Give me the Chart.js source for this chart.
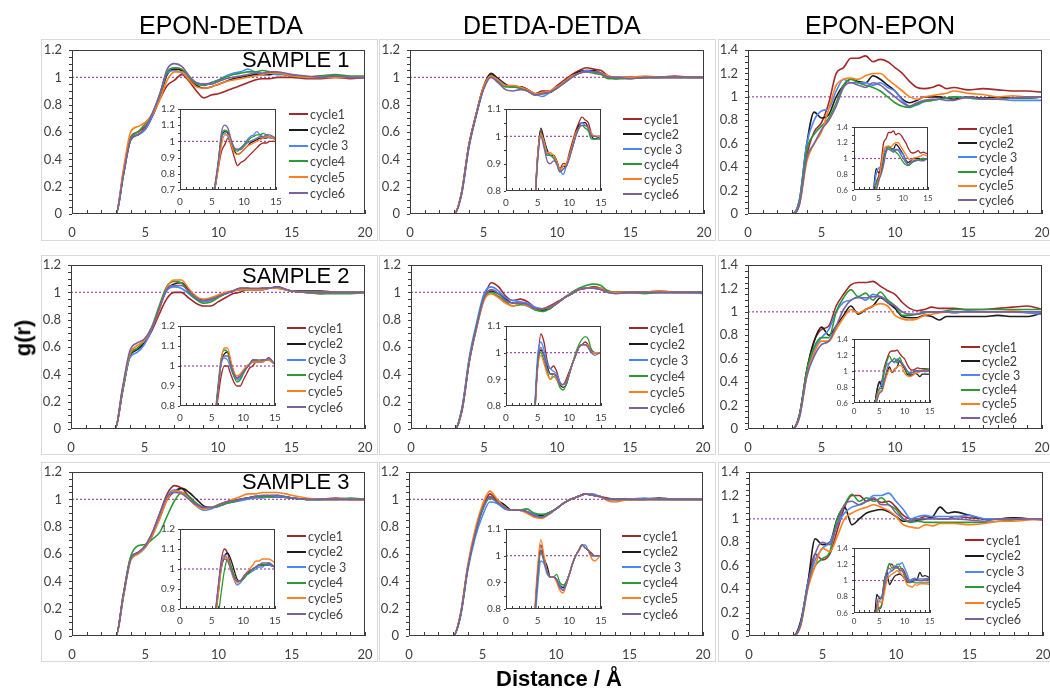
<!DOCTYPE html>
<html>
<head>
<meta charset="utf-8">
<script src="https://cdn.jsdelivr.net/npm/chart.js@4.4.0/dist/chart.umd.min.js"></script>
<style>
  html, body { margin: 0; padding: 0; background: #fff; }
  body { width: 1050px; height: 691px; position: relative; overflow: hidden; }
  .frame { position: absolute; border: 1px solid #d9d9d9; box-sizing: border-box; }
  canvas { position: absolute; }
  .txt { position: absolute; font-family: "Liberation Sans", Arial, sans-serif; color: #000; white-space: nowrap; line-height: 1; }
  .leg { position: absolute; display: flex; align-items: center; height: 16px;
         font-family: Lato, "Open Sans", sans-serif; font-size: 12.5px; color: #404040; }
  .leg span.ln { display: inline-block; width: 19px; height: 2px; margin-right: 2px; }
</style>
</head>
<body>
<script>
// distance grid (Angstrom), shared by every curve
const R = [0, 3, 3.5, 4, 4.5, 5, 5.5, 6, 6.5, 7, 7.5, 8, 8.5, 9, 9.5, 10, 10.5, 11, 11.5, 12, 12.5, 13, 13.5, 14, 15, 16, 17, 18, 19, 20];

const CYCLES = ['cycle1', 'cycle2', 'cycle 3', 'cycle4', 'cycle5', 'cycle6'];
const COLORS = ['#a1282b', '#1c1c1c', '#4a86ff', '#2a9a35', '#ff7f1e', '#7b619e'];

// g(r), one row per cycle
// EPON-DETDA
const eponDetda1 = [
  [0,0,0.30,0.56,0.60,0.64,0.72,0.84,0.94,0.98,1.02,0.97,0.90,0.85,0.87,0.88,0.90,0.92,0.94,0.96,0.98,0.99,0.99,1.00,1.00,0.99,0.99,1.00,0.99,1.00],
  [0,0,0.28,0.54,0.58,0.62,0.72,0.86,1.02,1.06,1.05,0.99,0.94,0.92,0.93,0.95,0.97,0.99,1.00,1.01,1.02,1.02,1.02,1.03,1.01,1.00,1.01,1.01,1.00,1.00],
  [0,0,0.29,0.55,0.58,0.62,0.72,0.87,1.03,1.05,1.03,0.99,0.96,0.95,0.96,0.98,1.01,1.03,1.04,1.06,1.04,1.03,1.03,1.02,1.02,1.00,1.00,1.01,1.00,1.00],
  [0,0,0.29,0.55,0.60,0.66,0.74,0.88,1.04,1.07,1.06,1.00,0.95,0.94,0.96,0.98,1.00,1.02,1.03,1.04,1.04,1.05,1.04,1.03,1.01,1.00,1.01,1.02,1.01,1.01],
  [0,0,0.32,0.60,0.64,0.67,0.73,0.84,0.98,1.04,1.04,0.98,0.93,0.92,0.93,0.95,0.97,0.98,0.99,1.00,1.01,1.02,1.03,1.03,1.01,1.00,1.00,1.00,1.00,1.00],
  [0,0,0.28,0.54,0.58,0.63,0.74,0.88,1.06,1.10,1.08,1.01,0.96,0.95,0.95,0.97,0.99,1.00,1.01,1.02,1.03,1.03,1.04,1.04,1.02,1.01,1.00,1.01,1.00,1.00]
];
const eponDetda2 = [
  [0,0,0.28,0.54,0.59,0.63,0.72,0.84,0.95,1.00,1.00,0.96,0.92,0.90,0.90,0.93,0.96,0.99,1.00,1.02,1.02,1.02,1.03,1.03,1.01,1.00,0.99,1.00,1.00,1.00],
  [0,0,0.27,0.53,0.58,0.63,0.73,0.88,1.02,1.06,1.07,1.02,0.97,0.94,0.95,0.97,0.99,1.01,1.03,1.03,1.02,1.03,1.03,1.04,1.01,1.01,1.01,1.00,1.00,1.00],
  [0,0,0.27,0.52,0.56,0.62,0.73,0.88,1.01,1.04,1.03,0.99,0.95,0.93,0.94,0.97,0.99,1.01,1.02,1.03,1.02,1.03,1.03,1.03,1.01,1.00,1.00,1.00,1.00,1.00],
  [0,0,0.28,0.54,0.59,0.65,0.75,0.90,1.04,1.08,1.07,1.00,0.95,0.92,0.93,0.96,0.99,1.01,1.02,1.02,1.02,1.02,1.03,1.03,1.01,1.00,0.99,0.99,0.99,1.00],
  [0,0,0.29,0.55,0.61,0.65,0.74,0.87,1.03,1.09,1.09,1.03,0.97,0.95,0.96,0.98,1.00,1.01,1.02,1.02,1.02,1.02,1.03,1.03,1.01,1.00,1.00,1.00,1.00,1.00],
  [0,0,0.30,0.57,0.63,0.66,0.74,0.88,1.02,1.05,1.05,1.01,0.96,0.94,0.95,0.97,0.99,1.01,1.03,1.03,1.03,1.03,1.03,1.04,1.01,1.00,1.00,1.00,1.00,1.00]
];
const eponDetda3 = [
  [0,0,0.30,0.57,0.61,0.66,0.76,0.90,1.04,1.10,1.08,1.02,0.97,0.94,0.94,0.96,0.98,0.99,1.00,1.01,1.02,1.02,1.02,1.02,1.01,1.00,1.00,1.01,1.00,1.00],
  [0,0,0.29,0.56,0.61,0.65,0.74,0.87,1.00,1.06,1.08,1.05,1.00,0.95,0.94,0.95,0.97,0.99,1.00,1.01,1.02,1.02,1.02,1.02,1.01,1.00,1.00,1.00,1.00,1.00],
  [0,0,0.29,0.56,0.60,0.65,0.75,0.89,1.02,1.07,1.05,1.00,0.95,0.92,0.93,0.95,0.97,0.98,0.99,1.00,1.01,1.01,1.02,1.02,1.01,1.00,1.00,1.00,1.00,1.00],
  [0,0,0.30,0.58,0.66,0.67,0.71,0.76,0.88,0.99,1.05,1.02,0.97,0.94,0.94,0.95,0.97,0.98,1.00,1.01,1.02,1.02,1.02,1.03,1.01,1.00,1.00,1.00,1.01,1.00],
  [0,0,0.28,0.55,0.60,0.65,0.74,0.86,1.00,1.06,1.05,1.00,0.95,0.93,0.94,0.96,0.98,1.00,1.02,1.04,1.04,1.05,1.05,1.05,1.03,1.01,1.00,1.00,1.00,1.00],
  [0,0,0.29,0.56,0.61,0.66,0.76,0.90,1.02,1.05,1.04,1.00,0.96,0.94,0.94,0.96,0.98,0.99,1.00,1.01,1.02,1.03,1.03,1.03,1.01,1.00,1.00,1.00,1.00,1.00]
];
// DETDA-DETDA
const detdaDetda1 = [
  [0,0,0.15,0.50,0.73,0.93,1.02,0.98,0.94,0.93,0.93,0.91,0.88,0.90,0.90,0.94,0.98,1.02,1.05,1.07,1.06,1.05,1.01,1.00,1.00,1.00,1.00,1.01,1.00,1.00],
  [0,0,0.15,0.50,0.73,0.93,1.03,0.99,0.95,0.93,0.93,0.91,0.88,0.89,0.89,0.93,0.97,1.01,1.04,1.05,1.05,1.03,1.00,0.99,1.00,1.00,1.00,1.00,1.00,1.00],
  [0,0,0.14,0.48,0.72,0.92,1.01,0.98,0.94,0.93,0.92,0.90,0.88,0.86,0.89,0.93,0.96,1.00,1.03,1.05,1.04,1.03,1.00,1.00,1.00,1.00,1.00,1.00,1.00,1.00],
  [0,0,0.15,0.49,0.72,0.92,1.01,0.97,0.93,0.93,0.92,0.90,0.87,0.88,0.89,0.92,0.96,1.00,1.03,1.04,1.03,1.02,0.99,0.99,0.99,1.00,1.00,1.00,1.00,1.00],
  [0,0,0.15,0.50,0.73,0.93,1.01,0.98,0.94,0.94,0.93,0.91,0.88,0.89,0.90,0.93,0.97,1.01,1.03,1.04,1.04,1.03,1.01,1.00,1.00,1.01,1.00,1.00,1.00,1.00],
  [0,0,0.14,0.49,0.72,0.91,1.00,0.96,0.91,0.90,0.91,0.90,0.87,0.88,0.89,0.92,0.96,1.00,1.03,1.04,1.04,1.03,1.00,1.00,0.99,1.00,1.00,1.00,1.00,1.00]
];
const detdaDetda2 = [
  [0,0,0.15,0.51,0.76,0.96,1.07,1.04,0.97,0.94,0.95,0.93,0.89,0.88,0.90,0.93,0.96,0.99,1.02,1.03,1.04,1.03,1.01,1.00,1.00,1.00,1.01,1.00,1.00,1.00],
  [0,0,0.14,0.50,0.75,0.95,1.01,0.99,0.95,0.92,0.92,0.91,0.88,0.87,0.88,0.92,0.96,0.99,1.02,1.03,1.03,1.02,1.00,1.00,1.00,1.00,1.00,1.00,1.00,1.00],
  [0,0,0.16,0.53,0.78,0.99,1.04,1.01,0.96,0.94,0.93,0.92,0.89,0.88,0.89,0.92,0.96,0.99,1.02,1.03,1.03,1.02,1.00,1.00,1.00,1.00,1.00,1.00,1.00,0.99],
  [0,0,0.15,0.51,0.76,0.96,1.00,0.97,0.93,0.90,0.91,0.90,0.87,0.86,0.88,0.92,0.96,1.00,1.03,1.05,1.06,1.05,1.01,1.00,1.00,0.99,1.00,1.00,1.00,1.00],
  [0,0,0.14,0.50,0.74,0.94,0.99,0.96,0.92,0.90,0.92,0.90,0.88,0.88,0.89,0.92,0.96,0.99,1.02,1.03,1.03,1.03,1.00,1.00,1.00,1.00,1.01,1.00,1.00,1.00],
  [0,0,0.14,0.50,0.75,0.96,1.02,0.99,0.94,0.92,0.92,0.91,0.88,0.88,0.89,0.92,0.96,0.99,1.02,1.03,1.03,1.02,1.00,0.99,1.00,1.00,1.00,1.00,1.00,1.00]
];
const detdaDetda3 = [
  [0,0,0.15,0.50,0.75,0.93,1.04,0.99,0.94,0.92,0.92,0.91,0.88,0.88,0.90,0.93,0.97,1.00,1.02,1.04,1.03,1.02,1.01,1.00,1.00,1.00,1.00,1.00,1.00,1.00],
  [0,0,0.15,0.50,0.75,0.93,1.02,0.99,0.96,0.92,0.92,0.91,0.89,0.88,0.90,0.93,0.97,1.00,1.02,1.04,1.03,1.02,1.00,1.00,1.00,1.00,1.01,1.00,1.00,1.00],
  [0,0,0.14,0.48,0.72,0.88,0.98,0.97,0.93,0.92,0.92,0.91,0.89,0.87,0.90,0.93,0.97,1.00,1.02,1.04,1.04,1.02,1.00,1.00,1.00,1.01,1.00,1.00,1.00,1.00],
  [0,0,0.15,0.50,0.74,0.92,1.01,0.98,0.94,0.92,0.92,0.93,0.90,0.89,0.90,0.93,0.97,1.00,1.02,1.04,1.03,1.02,1.00,1.00,1.00,1.00,1.00,1.00,1.00,1.00],
  [0,0,0.16,0.52,0.78,0.96,1.06,1.00,0.94,0.92,0.92,0.90,0.87,0.86,0.89,0.93,0.97,1.00,1.02,1.04,1.03,1.02,0.99,0.98,1.00,1.00,1.00,1.00,1.00,1.00],
  [0,0,0.15,0.50,0.75,0.93,1.02,0.98,0.94,0.92,0.92,0.91,0.88,0.87,0.89,0.93,0.97,1.00,1.02,1.04,1.03,1.02,1.00,1.00,1.00,1.00,1.00,1.00,1.00,1.00]
];
// EPON-EPON
const eponEpon1 = [
  [0,0,0.10,0.50,0.70,0.78,0.95,1.20,1.25,1.33,1.33,1.35,1.30,1.32,1.30,1.25,1.20,1.13,1.08,1.07,1.08,1.10,1.07,1.08,1.06,1.07,1.06,1.05,1.05,1.04],
  [0,0,0.12,0.60,0.87,0.82,0.85,1.00,1.10,1.15,1.13,1.12,1.18,1.15,1.10,1.05,0.98,0.95,0.97,1.00,1.00,1.00,0.99,0.98,1.00,0.99,1.00,0.99,0.99,1.00],
  [0,0,0.12,0.60,0.80,0.88,0.90,1.05,1.15,1.12,1.12,1.12,1.10,1.12,1.08,1.05,0.97,0.92,0.93,0.96,0.97,0.98,0.99,1.00,0.99,0.98,0.98,0.97,0.97,0.97],
  [0,0,0.10,0.55,0.68,0.75,0.82,0.95,1.10,1.15,1.12,1.10,1.08,1.05,1.00,0.95,0.92,0.91,0.94,0.96,0.97,0.98,0.99,1.00,0.99,0.98,0.98,0.99,0.99,1.00],
  [0,0,0.08,0.45,0.60,0.70,0.90,1.10,1.15,1.16,1.15,1.18,1.20,1.20,1.15,1.10,1.05,1.00,0.98,1.00,1.01,1.02,1.03,1.05,1.03,1.02,1.00,1.01,1.00,1.00],
  [0,0,0.08,0.48,0.60,0.72,0.80,0.92,1.08,1.12,1.10,1.08,1.12,1.10,1.05,1.00,0.95,0.92,0.95,0.97,0.98,0.98,0.97,0.97,1.00,0.98,0.98,0.99,1.00,1.00]
];
const eponEpon2 = [
  [0,0,0.12,0.50,0.75,0.85,0.88,1.05,1.15,1.23,1.25,1.25,1.26,1.22,1.18,1.15,1.08,1.03,1.01,1.02,1.04,1.03,1.03,1.03,1.02,1.02,1.03,1.04,1.05,1.02],
  [0,0,0.12,0.50,0.75,0.87,0.80,0.88,0.97,1.05,0.98,1.02,1.05,1.12,1.08,1.03,0.96,0.95,0.95,0.97,0.96,0.93,0.96,0.96,0.96,0.96,0.97,0.96,0.96,0.99],
  [0,0,0.11,0.48,0.68,0.78,0.85,1.00,1.08,1.10,1.13,1.10,1.15,1.13,1.10,1.05,1.00,0.98,0.98,1.00,1.00,1.00,1.00,0.99,1.01,1.00,1.00,1.00,0.99,0.98],
  [0,0,0.12,0.50,0.70,0.78,0.78,1.00,1.12,1.19,1.13,1.16,1.10,1.17,1.10,1.05,0.97,0.97,0.98,0.99,1.00,1.00,1.01,1.02,1.02,1.02,1.02,1.02,1.02,1.02],
  [0,0,0.10,0.45,0.65,0.75,0.75,0.85,0.95,1.02,0.99,1.02,1.05,1.07,1.05,0.97,0.94,0.93,0.94,0.97,0.98,0.99,1.00,1.00,1.00,1.00,1.00,1.01,1.00,1.00],
  [0,0,0.10,0.45,0.62,0.72,0.75,0.88,1.02,1.10,1.12,1.12,1.13,1.13,1.08,1.05,1.00,0.98,0.98,1.00,1.00,1.00,1.00,1.00,1.00,1.00,1.00,1.00,1.00,1.00]
];
const eponEpon3 = [
  [0,0,0.10,0.45,0.70,0.65,0.70,0.90,1.10,1.20,1.20,1.15,1.17,1.14,1.15,1.10,1.03,1.00,1.00,1.02,1.01,1.00,1.00,1.02,1.01,1.00,1.00,1.01,1.00,0.99],
  [0,0,0.12,0.45,0.83,0.78,0.80,1.00,1.10,0.95,1.00,1.05,1.07,1.08,1.06,1.02,0.98,0.98,0.99,1.00,1.02,1.10,1.05,1.06,1.03,1.00,1.00,1.01,1.00,1.00],
  [0,0,0.10,0.45,0.65,0.75,0.80,0.95,1.05,1.10,1.12,1.15,1.20,1.20,1.22,1.15,1.08,1.00,1.02,1.03,1.02,1.02,1.02,1.02,1.03,1.00,1.00,1.00,1.00,1.00],
  [0,0,0.09,0.42,0.60,0.66,0.72,1.00,1.12,1.21,1.15,1.18,1.15,1.18,1.12,1.08,1.00,0.97,0.98,0.97,0.97,0.97,0.97,0.97,0.97,0.97,0.98,0.99,1.00,1.00],
  [0,0,0.08,0.40,0.60,0.75,0.72,0.85,1.00,1.05,1.08,1.10,1.12,1.10,1.07,1.02,0.95,0.93,0.92,0.95,0.94,0.96,0.96,0.96,0.95,0.96,0.98,0.98,0.99,1.00],
  [0,0,0.09,0.42,0.70,0.80,0.78,0.95,1.12,1.15,1.12,1.15,1.18,1.12,1.12,1.05,1.00,0.98,1.00,1.00,1.00,1.00,1.00,1.00,0.99,0.98,1.00,1.00,1.00,1.00]
];

const COL_TITLES = ['EPON-DETDA', 'DETDA-DETDA', 'EPON-EPON'];
const SAMPLES = ['SAMPLE 1', 'SAMPLE 2', 'SAMPLE 3'];

// page layout: frame boxes, plot areas [left, top, right, bottom], inset areas, legends [x, y, step]
const FRAME_X = [[41, 378], [379, 716], [718, 1052]];
const FRAME_Y = [[39, 241], [255, 455], [462, 662]];

const PANELS = [
  { vals: eponDetda1,  main: [72, 50, 365, 214],   ymax: 1.2, inset: [180, 109, 276, 190], iy: [0.7, 1.2, 0.1], leg: [289, 114, 15.8] },
  { vals: detdaDetda1, main: [410, 50, 704, 214],  ymax: 1.2, inset: [506, 109, 601, 191], iy: [0.8, 1.1, 0.1], leg: [623, 119, 15.0] },
  { vals: eponEpon1,   main: [748, 50, 1042, 214], ymax: 1.4, inset: [854, 127, 928, 190], iy: [0.6, 1.4, 0.2], leg: [958, 129, 14.2] },
  { vals: eponDetda2,  main: [71, 265, 365, 429],  ymax: 1.2, inset: [180, 326, 275, 406], iy: [0.8, 1.2, 0.1], leg: [287, 328, 15.8] },
  { vals: detdaDetda2, main: [411, 265, 703, 429], ymax: 1.2, inset: [506, 326, 601, 406], iy: [0.8, 1.1, 0.1], leg: [629, 328, 16.0] },
  { vals: eponEpon2,   main: [748, 265, 1042, 429],ymax: 1.4, inset: [854, 339, 930, 403], iy: [0.6, 1.4, 0.2], leg: [961, 347, 14.2] },
  { vals: eponDetda3,  main: [72, 472, 365, 636],  ymax: 1.2, inset: [180, 529, 275, 609], iy: [0.8, 1.2, 0.1], leg: [287, 536, 15.6] },
  { vals: detdaDetda3, main: [409, 472, 703, 636], ymax: 1.2, inset: [506, 529, 601, 609], iy: [0.8, 1.1, 0.1], leg: [622, 536, 15.6] },
  { vals: eponEpon3,   main: [749, 472, 1043, 636],ymax: 1.4, inset: [854, 548, 930, 613], iy: [0.6, 1.4, 0.2], leg: [965, 540, 15.8] }
];

const TICK_FONT = 'Lato, "Open Sans", sans-serif';

// plot box + small tick marks, drawn the Excel way
const axisBox = {
  id: 'axisBox',
  beforeDraw(chart) {
    const { ctx, chartArea: a } = chart;
    ctx.save();
    ctx.fillStyle = '#fff';
    ctx.fillRect(a.left, a.top, a.right - a.left, a.bottom - a.top);
    ctx.restore();
  },
  afterDraw(chart, args, opts) {
    const { ctx, chartArea: a, scales: { x, y } } = chart;
    ctx.save();
    ctx.strokeStyle = '#3c3c3c';
    ctx.lineWidth = 1;
    ctx.beginPath();
    const nx = Math.round(x.max - x.min);
    for (let i = 0; i <= nx; i++) {
      const px = Math.round(x.getPixelForValue(x.min + i)) + 0.5;
      ctx.moveTo(px, a.bottom);
      ctx.lineTo(px, a.bottom - opts.len);
    }
    const ny = Math.round((y.max - y.min) / opts.yMinor);
    for (let i = 0; i <= ny; i++) {
      const py = Math.round(y.getPixelForValue(y.min + i * opts.yMinor)) + 0.5;
      ctx.moveTo(a.left, py);
      ctx.lineTo(a.left - opts.len + 1, py);
    }
    ctx.stroke();
    ctx.strokeRect(Math.round(a.left) + 0.5, Math.round(a.top) + 0.5,
                   Math.round(a.right - a.left) - 1, Math.round(a.bottom - a.top) - 1);
    ctx.restore();
  }
};

// canvas sized so that the chart area lands on `area`; pad = [top, right, bottom, left]
function addCanvas(area, yw, xh, pad) {
  const [L, T, Rr, B] = area;
  const c = document.createElement('canvas');
  const w = Rr - L + yw + pad[1] + pad[3], h = B - T + xh + pad[0] + pad[2];
  c.width = w; c.height = h;
  c.style.left = (L - yw - pad[3]) + 'px';
  c.style.top = (T - pad[0]) + 'px';
  c.style.width = w + 'px';
  c.style.height = h + 'px';
  document.body.appendChild(c);
  return c;
}

function makeDatasets(vals, xmax, lw) {
  const sets = vals.map((s, k) => ({
    label: CYCLES[k],
    data: R.map((r, i) => ({ x: r, y: s[i] })),
    borderColor: COLORS[k],
    borderWidth: lw,
    order: 6 - k
  }));
  sets.push({
    label: 'g=1',
    data: [{ x: 0, y: 1 }, { x: xmax, y: 1 }],
    borderColor: '#a04aa8',
    borderWidth: 1.2,
    borderDash: [2, 2],
    cubicInterpolationMode: 'default',
    order: 10
  });
  return sets;
}

function drawChart(canvas, o) {
  return new Chart(canvas, {
    type: 'line',
    data: { datasets: makeDatasets(o.vals, o.xmax, o.lw) },
    options: {
      responsive: false,
      animation: false,
      devicePixelRatio: 1,
      layout: { padding: { top: o.pad[0], right: o.pad[1], bottom: o.pad[2], left: o.pad[3] } },
      elements: { point: { radius: 0 }, line: { cubicInterpolationMode: 'monotone' } },
      plugins: {
        legend: { display: false },
        tooltip: { enabled: false },
        axisBox: { len: o.tickLen, yMinor: o.yMinor }
      },
      scales: {
        x: {
          type: 'linear', min: 0, max: o.xmax,
          afterFit: s => { s.height = o.xh; },
          grid: { display: false, drawTicks: false },
          border: { display: false },
          ticks: { stepSize: 5, maxRotation: 0, padding: o.xpad, color: '#404040',
                   font: { family: TICK_FONT, size: o.fs } }
        },
        y: {
          min: o.ymin, max: o.ymax,
          afterFit: s => { s.width = o.yw; },
          grid: { display: false, drawTicks: false },
          border: { display: false },
          ticks: { stepSize: o.ystep, padding: o.ypad, color: '#404040',
                   font: { family: TICK_FONT, size: o.fs },
                   callback: v => String(Math.round(v * 10) / 10) }
        }
      }
    },
    plugins: [axisBox]
  });
}

function addText(str, css) {
  const d = document.createElement('div');
  d.className = 'txt';
  d.textContent = str;
  d.style.cssText += css;
  document.body.appendChild(d);
  return d;
}

// frames
FRAME_Y.forEach(fy => FRAME_X.forEach(fx => {
  const f = document.createElement('div');
  f.className = 'frame';
  f.style.left = fx[0] + 'px'; f.style.top = fy[0] + 'px';
  f.style.width = (fx[1] - fx[0]) + 'px'; f.style.height = (fy[1] - fy[0]) + 'px';
  document.body.appendChild(f);
}));

const MAIN_PAD = [24, 24, 10, 10];
const INSET_PAD = [16, 16, 6, 6];

PANELS.forEach((p, n) => {
  const col = n % 3;
  // main plot
  drawChart(addCanvas(p.main, 30, 24, MAIN_PAD), {
    vals: p.vals, xmax: 20, lw: 1.6, pad: MAIN_PAD, xh: 24, yw: 30,
    ymin: 0, ymax: p.ymax, ystep: 0.2, yMinor: 0.05, tickLen: 4,
    fs: 13, xpad: 11, ypad: 10
  });
  // inset
  const small = col === 2;
  drawChart(addCanvas(p.inset, 22, 16, INSET_PAD), {
    vals: p.vals, xmax: 15, lw: 1.3, pad: INSET_PAD, xh: 16, yw: 22,
    ymin: p.iy[0], ymax: p.iy[1], ystep: p.iy[2], yMinor: p.iy[2] / 2, tickLen: 3,
    fs: small ? 8 : 10, xpad: small ? 4 : 6, ypad: small ? 6 : 5
  });
  // legend
  CYCLES.forEach((name, k) => {
    const row = document.createElement('div');
    row.className = 'leg';
    row.style.left = p.leg[0] + 'px';
    row.style.top = (p.leg[1] + k * p.leg[2] - 8) + 'px';
    const ln = document.createElement('span');
    ln.className = 'ln';
    ln.style.background = COLORS[k];
    row.appendChild(ln);
    row.appendChild(document.createTextNode(name));
    document.body.appendChild(row);
  });
});

// titles and labels
const TITLE_X = [221, 552, 880];
COL_TITLES.forEach((t, i) => {
  const d = addText(t, 'font-size:25px;top:13px;');
  d.style.left = (TITLE_X[i] - d.offsetWidth / 2) + 'px';
});
[49, 265, 471].forEach((top, i) => addText(SAMPLES[i], 'font-size:22px;left:242px;top:' + top + 'px;'));

const gr = addText('g(r)', 'font-size:22px;font-weight:bold;');
gr.style.left = (23 - gr.offsetWidth / 2) + 'px';
gr.style.top = (338 - gr.offsetHeight / 2) + 'px';
gr.style.transform = 'rotate(-90deg)';

const dl = addText('Distance / Å', 'font-size:22px;font-weight:bold;');
dl.style.left = (559 - dl.offsetWidth / 2) + 'px';
dl.style.top = '668px';
</script>
</body>
</html>
